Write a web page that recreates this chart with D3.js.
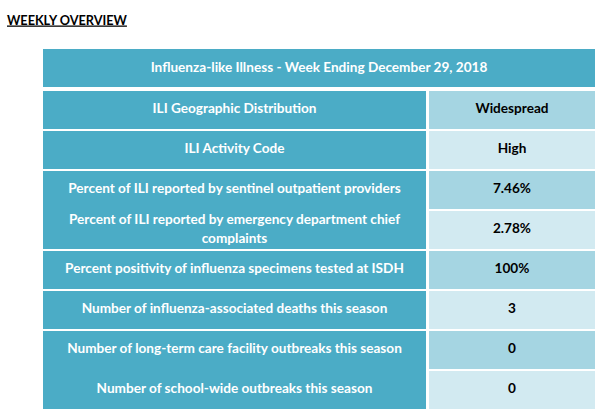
<!DOCTYPE html>
<html><head><meta charset="utf-8">
<script src="https://cdn.jsdelivr.net/npm/d3@7"></script>
<style>
html,body{margin:0;padding:0;background:#fff;}
svg{display:block;}
text{font-family:Lato,"Open Sans",sans-serif;font-weight:bold;}
</style></head>
<body>
<svg id="c" width="600" height="415"></svg>
<script>
const title = "WEEKLY OVERVIEW";
const header = "Influenza-like Illness - Week Ending December 29, 2018";
const labels = [
  ["ILI Geographic Distribution"],
  ["ILI Activity Code"],
  ["Percent of ILI reported by sentinel outpatient providers"],
  ["Percent of ILI reported by emergency department chief", "complaints"],
  ["Percent positivity of influenza specimens tested at ISDH"],
  ["Number of influenza-associated deaths this season"],
  ["Number of long-term care facility outbreaks this season"],
  ["Number of school-wide outbreaks this season"]
];
const values = ["Widespread", "High", "7.46%", "2.78%", "100%", "3", "0", "0"];
// left-column cells that visually run into the next row (no separator)
const joinedBelow = [2, 6];

const svg = d3.select("#c");
const fs = 13.6;

svg.append("text").attr("x", 7).attr("y", 24.5)
  .attr("font-size", 12.7).attr("fill", "#000").attr("font-weight", 900)
  .attr("text-decoration", "underline")
  .text(title);

const x0 = 43, xSplit = 426, x1 = 429, x2 = 595;
const y = d3.scaleBand().domain(d3.range(labels.length)).range([91, 409]).paddingInner(0.05).paddingOuter(0);
const rowStep = y.step();

// header
svg.append("rect").attr("x", x0).attr("y", 49).attr("width", x2 - x0).attr("height", 38).attr("fill", "#4BACC6");
svg.append("text").attr("x", (x0 + x2) / 2).attr("y", 68).attr("dy", "0.3em")
  .attr("text-anchor", "middle").attr("font-size", fs).attr("fill", "#fff").text(header);

const rows = svg.selectAll("g.row").data(labels.map((l, i) => ({l, v: values[i], i})))
  .join("g").attr("class", "row");

rows.append("rect").attr("x", x0).attr("y", d => y(d.i))
  .attr("width", xSplit - x0)
  .attr("height", d => y.bandwidth() + (joinedBelow.includes(d.i) ? rowStep - y.bandwidth() + 0.5 : 0))
  .attr("fill", "#4BACC6");

rows.append("rect").attr("x", x1).attr("y", d => y(d.i))
  .attr("width", x2 - x1).attr("height", y.bandwidth())
  .attr("fill", d => d.i % 2 === 0 ? "#A5D5E2" : "#D2EAF1");

rows.each(function(d) {
  const g = d3.select(this);
  const cy = y(d.i) + y.bandwidth() / 2 - 0.8;
  const lh = 18.5;
  const n = d.l.length;
  d.l.forEach((line, k) => {
    g.append("text").attr("x", (x0 + xSplit) / 2)
      .attr("y", cy + (k - (n - 1) / 2) * lh).attr("dy", "0.3em")
      .attr("text-anchor", "middle").attr("font-size", fs).attr("fill", "#fff").text(line);
  });
  g.append("text").attr("x", (x1 + x2) / 2).attr("y", cy).attr("dy", "0.3em")
    .attr("text-anchor", "middle").attr("font-size", fs).attr("fill", "#000").text(d.v);
});
</script>
</body></html>
